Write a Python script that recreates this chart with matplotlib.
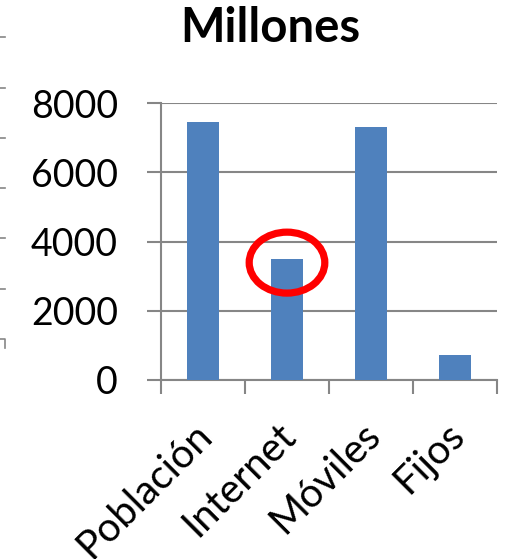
import numpy as np
import matplotlib
matplotlib.use("Agg")
import matplotlib.pyplot as plt
from matplotlib.patches import Ellipse
from matplotlib.lines import Line2D
from matplotlib.transforms import ScaledTranslation

plt.rcParams["font.family"] = ["Lato", "DejaVu Sans"]

categories = ["Población", "Internet", "Móviles", "Fijos"]
values = [7460, 3495, 7300, 725]
yticks = [0, 2000, 4000, 6000, 8000]

BAR_COLOR = "#4F81BD"
GRID_COLOR = "#868686"

W, H = 510, 559
fig = plt.figure(figsize=(W / 100, H / 100), dpi=100)
ax = fig.add_axes([161 / W, 1 - 380 / H, (497 - 161) / W, (380 - 103) / H])

x = np.arange(len(categories))
ax.bar(x, values, width=0.39, color=BAR_COLOR, zorder=3)

ax.set_xlim(-0.5, len(categories) - 0.5)
ax.set_ylim(0, 8000)
ax.set_yticks(yticks)
ax.set_yticklabels([str(v) for v in yticks])
ax.yaxis.grid(True, color=GRID_COLOR, linewidth=1.5, zorder=0)

# category labels at centres, tick marks at boundaries
ax.set_xticks(x)
ax.set_xticklabels(categories, rotation=45, ha="right", rotation_mode="anchor")
ax.set_xticks(np.arange(len(categories) + 1) - 0.5, minor=True)
ax.tick_params(axis="x", which="major", length=0, pad=26, labelsize=29)
ax.tick_params(axis="x", which="minor", length=10, width=1.5, color=GRID_COLOR)
ax.tick_params(axis="y", length=10, width=1.5, color=GRID_COLOR, pad=21, labelsize=27)
shift = ScaledTranslation(-10 / 100, 0, fig.dpi_scale_trans)
for lab in ax.get_xticklabels():
    lab.set_transform(lab.get_transform() + shift)

for s in ["top", "right"]:
    ax.spines[s].set_visible(False)
for s in ["left", "bottom"]:
    ax.spines[s].set_color(GRID_COLOR)
    ax.spines[s].set_linewidth(1.5)

# red highlight around the Internet bar
ax.add_patch(Ellipse((1, 3390), 0.9, 1760, fill=False, edgecolor="#FF0000",
                     linewidth=5.2, zorder=5, clip_on=False))

fig.text(270 / W, 1 - 42 / H, "Millones", ha="center", va="baseline",
         fontsize=34, fontweight="bold")

# bits of the neighbouring chart cut off at the left edge
for yy in [37, 88, 138, 188, 238, 289]:
    fig.add_artist(Line2D([0, 5 / W], [1 - yy / H] * 2, color=GRID_COLOR, lw=1.2))
fig.add_artist(Line2D([0, 5 / W, 5 / W], [1 - 339 / H, 1 - 339 / H, 1 - 348 / H],
                      color=GRID_COLOR, lw=1.2))

fig.savefig("out.png", dpi=100)
